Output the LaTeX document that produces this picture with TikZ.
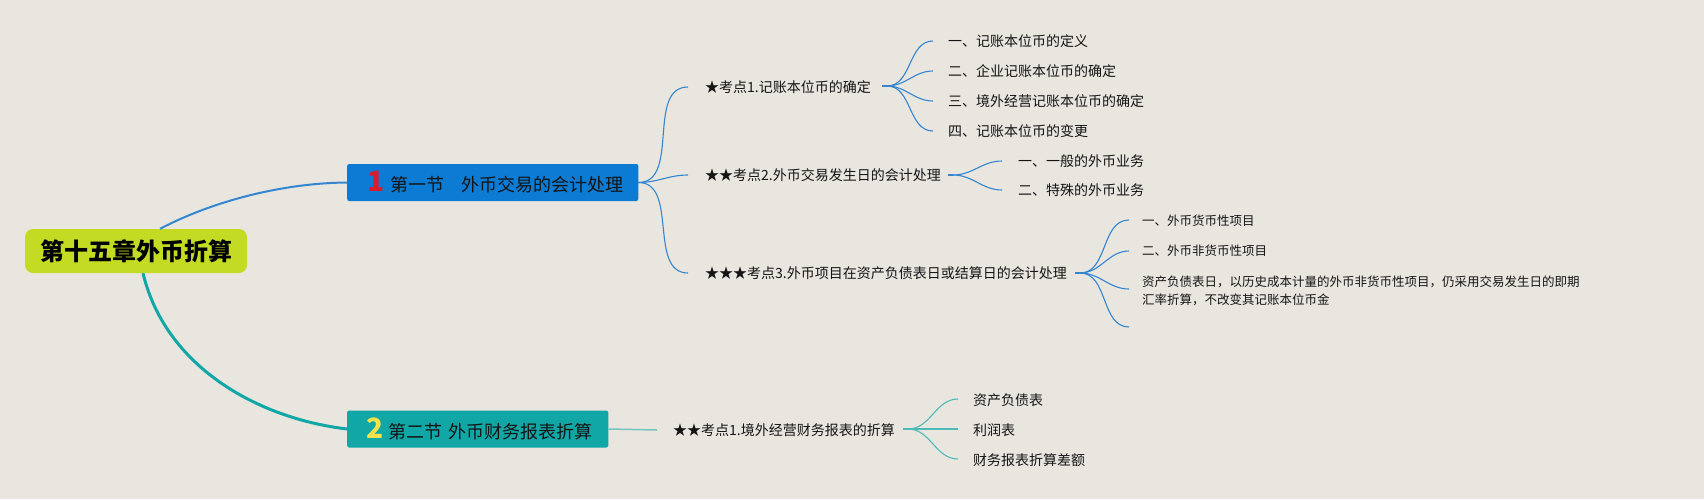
\documentclass[tikz,border=0pt]{standalone}
\usepackage{fontspec}
\setmainfont{Noto Sans CJK SC}
\definecolor{bg}{HTML}{E9E6E0}
\definecolor{rootc}{HTML}{C3DC23}
\definecolor{blueb}{HTML}{0B7BD3}
\definecolor{tealb}{HTML}{10A7A6}
\definecolor{bline}{HTML}{3486D0}
\definecolor{tline}{HTML}{4FBBB8}
\definecolor{tline2}{HTML}{74C6C4}
\definecolor{numred}{HTML}{D81E2C}
\definecolor{numyel}{HTML}{F3E34B}
\definecolor{txt}{HTML}{141414}
\begin{document}
\begin{tikzpicture}[x=1pt,y=-1pt,
  rootbox/.style={fill=rootc, rounded corners=8pt, minimum width=222pt, minimum height=44pt, inner sep=0pt, text=black, font=\fontsize{24}{28}\selectfont\bfseries},
  secbox/.style={rounded corners=2pt, minimum height=37pt, inner xsep=0pt, inner ysep=0pt, anchor=west, text=txt, font=\fontsize{18}{22}\selectfont},
  lbl/.style={anchor=west, inner sep=0pt, text=txt, font=\fontsize{14}{17}\selectfont},
  sublbl/.style={anchor=west, inner sep=0pt, text=txt, align=left, font=\fontsize{12.5}{18.5}\selectfont},
  bfan/.style={draw=bline, line width=1.1pt},
  tfan/.style={draw=tline, line width=1.1pt},
  hubdash/.style={line width=2.4pt}
]
\fill[bg] (0,0) rectangle (1704,499);
\useasboundingbox (0,0) rectangle (1704,499);

% root
\node[rootbox] (root) at (136,251) {第十五章外币折算};

% section boxes
\node[secbox, fill=blueb] (b1) at (347,182.5) {\rule{20pt}{0pt}{\color{numred}\fontsize{28}{28}\selectfont\bfseries 1}\hspace{6pt}第一节\hspace{17pt}外币交易的会计处理\rule{15pt}{0pt}};
\node[secbox, fill=tealb] (b2) at (347,429) {\rule{19pt}{0pt}{\color{numyel}\fontsize{28}{28}\selectfont\bfseries 2}\hspace{5pt}第二节\hspace{6pt}外币财务报表折算\rule{16pt}{0pt}};

% root connectors
\draw[draw=bline, line width=2pt] ([xshift=24pt]root.north) .. controls (215,200) and (285,183) .. (b1.west);
\draw[draw=tealb, line width=3pt] ([xshift=7pt]root.south) .. controls (165,365) and (255,418) .. (b2.west);

% level 2 under section 1
\node[lbl] (k1) at (705,87) {★考点1.记账本位币的确定};
\node[lbl] (k2) at (705,175) {★★考点2.外币交易发生日的会计处理};
\node[lbl] (k3) at (705,273) {★★★考点3.外币项目在资产负债表日或结算日的会计处理};
\foreach \k in {k1,k2,k3}{
  \draw[bfan] (b1.east) to[out=0,in=180] ([xshift=-17pt]\k.west);
}

% grandchildren of k1
\coordinate (h1) at (887,86);
\node[lbl] (g11) at (948,41) {一、记账本位币的定义};
\node[lbl] (g12) at (948,71) {二、企业记账本位币的确定};
\node[lbl] (g13) at (948,101) {三、境外经营记账本位币的确定};
\node[lbl] (g14) at (948,131) {四、记账本位币的变更};
\foreach \g in {g11,g12,g13,g14}{
  \draw[bfan] (h1) to[out=0,in=180] ([xshift=-15pt]\g.west);
}
\draw[bfan,hubdash] ([xshift=-5pt]h1) -- (h1);

% grandchildren of k2
\coordinate (h2) at (953,175);
\node[lbl] (g21) at (1018,161) {一、一般的外币业务};
\node[lbl] (g22) at (1018,190) {二、特殊的外币业务};
\foreach \g in {g21,g22}{
  \draw[bfan] (h2) to[out=0,in=180] ([xshift=-16pt]\g.west);
}
\draw[bfan,hubdash] ([xshift=-5pt]h2) -- (h2);

% grandchildren of k3
\coordinate (h3) at (1080,273);
\node[sublbl] (g31) at (1142,221) {一、外币货币性项目};
\node[sublbl] (g32) at (1142,251) {二、外币非货币性项目};
\node[sublbl] (g33) at (1142,291) {资产负债表日，以历史成本计量的外币非货币性项目，仍采用交易发生日的即期\\汇率折算，不改变其记账本位币金};
\coordinate (g34) at (1129,327);
\draw[bfan] (h3) to[out=0,in=180] ([xshift=-13pt,yshift=1pt]g31.west);
\draw[bfan] (h3) to[out=0,in=180] ([xshift=-13pt]g32.west);
\draw[bfan] (h3) to[out=0,in=180] ([xshift=-13pt,yshift=2pt]g33.west);
\draw[bfan] (h3) to[out=0,in=180] (g34);
\draw[bfan,hubdash] ([xshift=-5pt]h3) -- (h3);

% section 2
\node[lbl] (k4) at (673,430) {★★考点1.境外经营财务报表的折算};
\draw[draw=tline2, line width=1.5pt] (b2.east) -- ([xshift=-16pt]k4.west);
\coordinate (h4) at (908,429);
\node[lbl] (g41) at (973,400) {资产负债表};
\node[lbl] (g42) at (973,430) {利润表};
\node[lbl] (g43) at (973,460) {财务报表折算差额};
\foreach \g in {g41,g42,g43}{
  \draw[tfan] (h4) to[out=0,in=180] ([xshift=-15pt,yshift=1pt]\g.west);
}
\draw[tfan,hubdash] ([xshift=-5pt]h4) -- (h4);
\end{tikzpicture}
\end{document}
